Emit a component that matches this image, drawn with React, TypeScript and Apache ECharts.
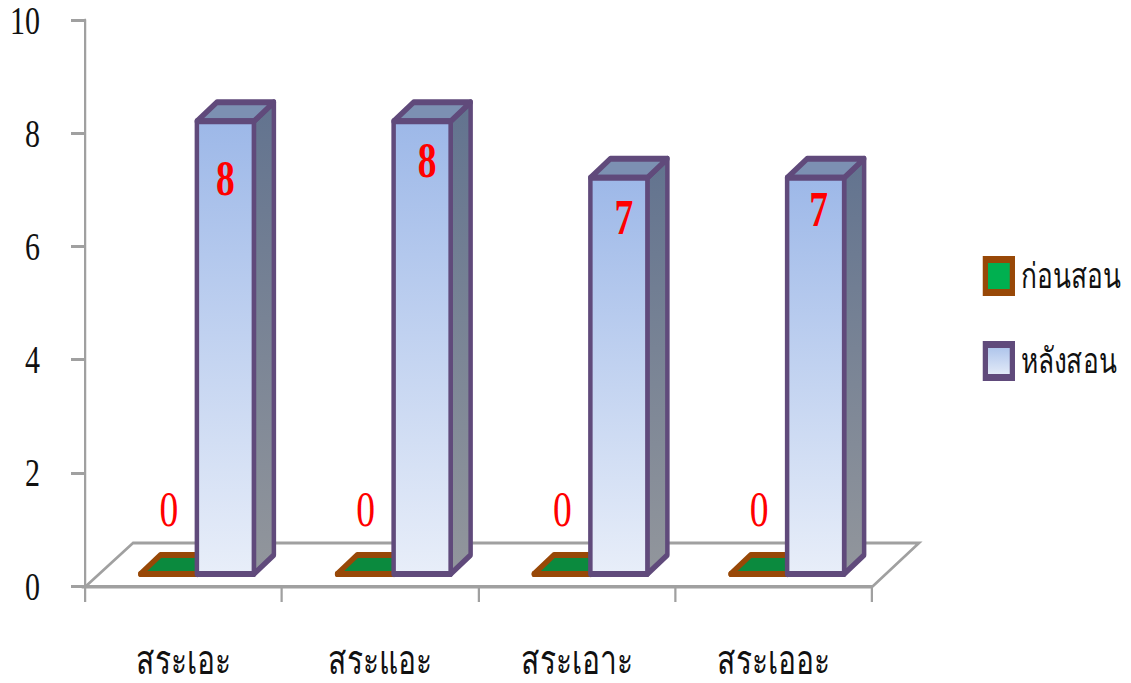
import React, { useEffect, useRef } from "react";
import * as echarts from "echarts";

const categories = ["สระเอะ", "สระแอะ", "สระเอาะ", "สระเออะ"];
const beforeValues = [0, 0, 0, 0];
const afterValues = [8, 8, 7, 7];
const yTicks = { min: 0, max: 10, interval: 2 };
const seriesNames = ["ก่อนสอน", "หลังสอน"];

// The reference is horizontally condensed; the whole chart is drawn wider, then squeezed.
const K = 0.75;
const W = 1131;
const H = 683;
const px = (x: number) => x / K;
const serif = '"Liberation Serif", "Times New Roman", serif';
const thai = '"Liberation Serif", "Noto Sans", "DejaVu Sans", serif';
const GRAY = "#A0A0A0";

const BAR_W = px(57);
const DX = px(20);
const DY = 19;
const LIFT = 12;
const afterLabelShift = [[0, 57], [5, 39], [5, 40], [3, 32]];

const vgrad = (a: string, b: string) => new echarts.graphic.LinearGradient(0, 0, 0, 1, [
  { offset: 0, color: a },
  { offset: 1, color: b },
]);

function box(x0: number, yTop: number, yBot: number, stroke: string, sw: number, front: any, top: any, side: any) {
  const x1 = x0 + BAR_W;
  const st = { stroke, lineWidth: sw, lineJoin: "round" };
  return [
    { type: "polygon", shape: { points: [[x1, yBot], [x1 + DX, yBot - DY], [x1 + DX, yTop - DY], [x1, yTop]] }, style: { fill: side, ...st } },
    { type: "polygon", shape: { points: [[x0, yTop], [x0 + DX, yTop - DY], [x1 + DX, yTop - DY], [x1, yTop]] }, style: { fill: top, ...st } },
    { type: "polygon", shape: { points: [[x0, yBot], [x0, yTop], [x1, yTop], [x1, yBot]] }, style: { fill: front, ...st } },
  ];
}

export default function App() {
  const ref = useRef<HTMLDivElement>(null);
  useEffect(() => {
    const chart = echarts.init(ref.current!, undefined, { renderer: "svg" });
    const renderFloor = (params: any) => {
      const c = params.coordSys;
      const b = c.y + c.height + 1;
      return {
        type: "polygon",
        shape: { points: [[c.x, b], [c.x + px(48), b - 44], [c.x + c.width + px(47), b - 44], [c.x + c.width, b]] },
        style: { fill: "none", stroke: GRAY, lineWidth: 3 },
      };
    };
    const renderBefore = (_: any, api: any) => {
      const i = api.value(0);
      const v = api.value(1);
      const p = api.coord([i, v]);
      const x0 = p[0] - px(43);
      const yBot = api.coord([i, 0])[1] - LIFT;
      const yTop = p[1] - LIFT;
      return {
        type: "group",
        children: [
          ...box(x0, yTop, yBot, "#984807", 6, "#0B8A3E", "#0B8A3E", "#0B8A3E"),
          {
            type: "text",
            style: { text: String(v), x: x0 + BAR_W / 2, y: yTop - 64, fill: "#FF0000", font: `50px ${serif}`, align: "center", verticalAlign: "middle" },
          },
        ],
      };
    };
    const renderAfter = (params: any, api: any) => {
      const i = api.value(0);
      const v = api.value(1);
      const p = api.coord([i, v]);
      const x0 = p[0] + px(13.5);
      const yBot = api.coord([i, 0])[1] - LIFT;
      const yTop = p[1] - LIFT;
      const s = afterLabelShift[params.dataIndex];
      return {
        type: "group",
        children: [
          ...box(x0, yTop, yBot, "#604A7B", 6, vgrad("#9DB8E8", "#E8EEF9"), "#7C90B2", vgrad("#62738F", "#92969C")),
          {
            type: "text",
            style: { text: String(v), x: x0 + BAR_W / 2 + px(s[0]), y: yTop + s[1], fill: "#FF0000", font: `bold 50px ${serif}`, align: "center", verticalAlign: "middle" },
          },
        ],
      };
    };
    chart.setOption({
      animation: false,
      backgroundColor: "#FFFFFF",
      grid: { left: px(85), right: px(W - 872), top: 20, bottom: H - 586 },
      legend: {
        orient: "vertical",
        left: px(979),
        top: 251,
        itemWidth: px(27),
        itemHeight: 33,
        itemGap: 45,
        textStyle: { fontFamily: thai, fontSize: 35, color: "#111111", padding: [0, 0, 4, 6] },
        data: [
          { name: seriesNames[0], icon: "rect", itemStyle: { color: "#00B050", borderColor: "#984807", borderWidth: 7 } },
          { name: seriesNames[1], icon: "rect", itemStyle: { color: vgrad("#A9C1EA", "#E8EEF9"), borderColor: "#604A7B", borderWidth: 7 } },
        ],
      },
      xAxis: {
        type: "category",
        data: categories,
        axisLine: { lineStyle: { color: GRAY, width: 3 } },
        axisTick: { show: true, alignWithLabel: false, length: 16, lineStyle: { color: GRAY, width: 3 } },
        axisLabel: { fontFamily: thai, fontSize: 40, color: "#111111", margin: 54 },
      },
      yAxis: {
        type: "value",
        min: yTicks.min,
        max: yTicks.max,
        interval: yTicks.interval,
        splitLine: { show: false },
        axisLine: { show: true, lineStyle: { color: GRAY, width: 3 } },
        axisTick: { show: true, length: px(14), lineStyle: { color: GRAY, width: 3 } },
        axisLabel: { fontFamily: serif, fontSize: 40, color: "#111111", margin: px(45) },
      },
      series: [
        { type: "custom", name: "floor", coordinateSystem: "cartesian2d", renderItem: renderFloor, data: [[0, 0]], z: 1, silent: true },
        { type: "custom", name: seriesNames[0], renderItem: renderBefore, data: beforeValues.map((v, i) => [i, v]), encode: { x: 0, y: 1 }, z: 2, itemStyle: { color: "#00B050" } },
        { type: "custom", name: seriesNames[1], renderItem: renderAfter, data: afterValues.map((v, i) => [i, v]), encode: { x: 0, y: 1 }, z: 3, itemStyle: { color: "#9DB8E8" } },
      ],
    });
    return () => chart.dispose();
  }, []);
  return (
    <div style={{ position: "absolute", left: 0, top: 0, width: W, height: H, overflow: "hidden" }}>
      <div ref={ref} style={{ width: W / K, height: H, transform: `scaleX(${K})`, transformOrigin: "0 0" }} />
    </div>
  );
}
